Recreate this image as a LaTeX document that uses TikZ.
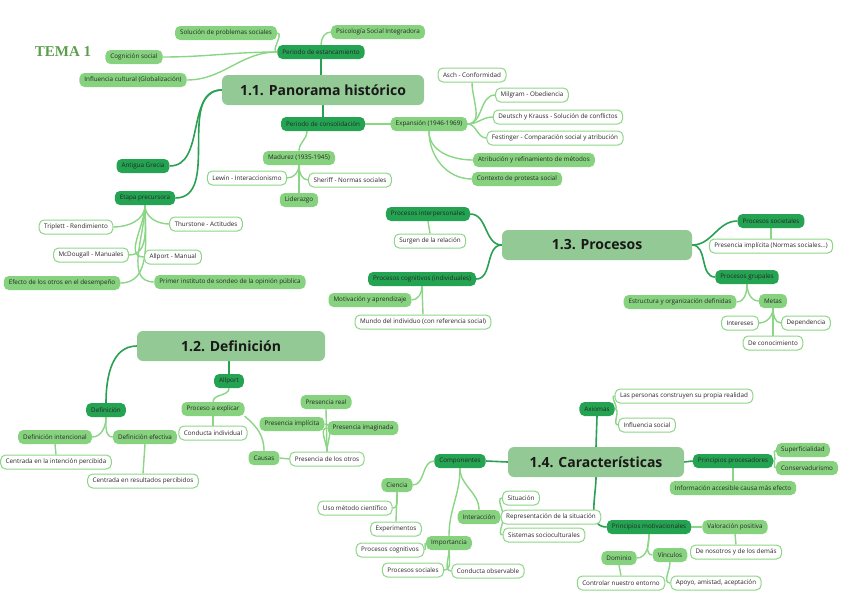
\documentclass[tikz,border=0pt]{standalone}
\usepackage{fontspec}
\setmainfont{Open Sans}
\newfontfamily\temafont{Liberation Serif}
\usetikzlibrary{backgrounds}
\definecolor{topicc}{HTML}{93C994}
\definecolor{darkc}{HTML}{24A452}
\definecolor{medc}{HTML}{86D27F}
\definecolor{bordc}{HTML}{8CD686}
\definecolor{lined}{HTML}{2AA052}
\definecolor{linel}{HTML}{8AD684}
\definecolor{temac}{HTML}{5C9E4C}
\tikzset{
  base/.style={rounded corners=5pt, minimum height=14pt, inner xsep=5pt, inner ysep=2pt, font=\fontsize{6.3}{7}\selectfont, text=black!85},
  dk/.style={base, fill=darkc},
  md/.style={base, fill=medc},
  wh/.style={base, fill=white, draw=bordc, line width=1pt},
  topic/.style={rounded corners=6pt, fill=topicc, minimum height=30pt, font=\fontsize{14}{16}\selectfont\bfseries, text=black!90},
  cd/.style={draw=lined, line width=1.6pt},
  cl/.style={draw=linel, line width=1.4pt},
}
\begin{document}
\begin{tikzpicture}[x=1pt,y=-1pt]
\useasboundingbox (0,0) rectangle (848,600);
\node[text=temac, font=\temafont\fontsize{15}{17}\selectfont\bfseries] (tema) at (63,52) {TEMA 1};
% ---------- 1.1
\node[topic, minimum width=202pt] (p11) at (323,90) {1.1. Panorama histórico};
\node[dk] (pest) at (321,52) {Periodo de estancamiento};
\node[md] (sol) at (226,33) {Solución de problemas sociales};
\node[md] (psi) at (378,32) {Psicología Social Integradora};
\node[md] (cog) at (134,57) {Cognición social};
\node[md] (inf) at (133,80) {Influencia cultural (Globalización)};
\node[dk] (pcon) at (323,124) {Periodo de consolidación};
\node[md] (exp) at (429,124) {Expansión (1946-1969)};
\node[md] (mad) at (299,158) {Madurez (1935-1945)};
\node[wh] (lew) at (247,178) {Lewin - Interaccionismo};
\node[wh] (she) at (350,180) {Sheriff - Normas sociales};
\node[md] (lid) at (299,200) {Liderazgo};
\node[wh] (asc) at (472,75) {Asch - Conformidad};
\node[wh] (mil) at (532,95) {Milgram - Obediencia};
\node[wh] (deu) at (558,117) {Deutsch y Krauss - Solución de conflictos};
\node[wh] (fes) at (555,138) {Festinger - Comparación social y atribución};
\node[md] (atr) at (534,160) {Atribución y refinamiento de métodos};
\node[md] (ctx) at (517,179) {Contexto de protesta social};
\node[dk] (gre) at (143,166) {Antigua Grecia};
\node[dk] (eta) at (145,198) {Etapa precursora};
\node[wh] (tri) at (76,227) {Triplett - Rendimiento};
\node[wh] (thu) at (206,224) {Thurstone - Actitudes};
\node[wh] (mcd) at (91,255) {McDougall - Manuales};
\node[wh] (alm) at (173,257) {Allport - Manual};
\node[md] (efe) at (62,283) {Efecto de los otros en el desempeño};
\node[md] (pri) at (230,282) {Primer instituto de sondeo de la opinión pública};
% ---------- 1.3
\node[topic, minimum width=190pt] (p13) at (597,245) {1.3. Procesos};
\node[dk] (pint) at (428,214) {Procesos interpersonales};
\node[wh] (sur) at (430,241) {Surgen de la relación};
\node[dk] (pcog) at (422,279) {Procesos cognitivos (individuales)};
\node[md] (mot) at (370,300) {Motivación y aprendizaje};
\node[wh] (mun) at (423,322) {Mundo del individuo (con referencia social)};
\node[dk] (psoc) at (771,221) {Procesos societales};
\node[wh] (pimp) at (771,246) {Presencia implícita (Normas sociales...)};
\node[dk] (pgru) at (747,277) {Procesos grupales};
\node[md] (est) at (680,302) {Estructura y organización definidas};
\node[md] (met) at (773,301) {Metas};
\node[wh] (int) at (740,323) {Intereses};
\node[wh] (dep) at (806,323) {Dependencia};
\node[wh] (con) at (773,343) {De conocimiento};
% ---------- 1.2
\node[topic, minimum width=188pt] (p12) at (231,346) {1.2. Definición};
\node[dk] (def) at (106,410) {Definición};
\node[dk] (all) at (229,381) {Allport};
\node[md] (pro) at (213,409) {Proceso a explicar};
\node[wh] (cin) at (213,433) {Conducta individual};
\node[md] (cau) at (264,458) {Causas};
\node[wh] (pdo) at (327,459) {Presencia de los otros};
\node[md] (pre) at (326,402) {Presencia real};
\node[md] (pim) at (292,424) {Presencia implícita};
\node[md] (pig) at (363,428) {Presencia imaginada};
\node[md] (din) at (55,437) {Definición intencional};
\node[md] (dfe) at (145,437) {Definición efectiva};
\node[wh] (cen) at (56,462) {Centrada en la intención percibida};
\node[wh] (cre) at (143,481) {Centrada en resultados percibidos};
% ---------- 1.4
\node[topic, minimum width=176pt] (p14) at (596,462) {1.4. Características};
\node[dk] (com) at (460,461) {Componentes};
\node[md] (cie) at (397,485) {Ciencia};
\node[wh] (uso) at (355,508) {Uso método científico};
\node[wh] (exq) at (396,529) {Experimentos};
\node[md] (inc) at (479,517) {Interacción};
\node[wh] (sit) at (521,498) {Situación};
\node[wh] (rep) at (551,517) {Representación de la situación};
\node[wh] (sis) at (544,535) {Sistemas socioculturales};
\node[md] (imp) at (449,543) {Importancia};
\node[wh] (pcg) at (390,550) {Procesos cognitivos};
\node[wh] (pso) at (413,570) {Procesos sociales};
\node[wh] (cob) at (488,571) {Conducta observable};
\node[dk] (axi) at (597,409) {Axiomas};
\node[wh] (las) at (684,396) {Las personas construyen su propia realidad};
\node[wh] (ins) at (647,425) {Influencia social};
\node[dk] (ppr) at (733,461) {Principios procesadores};
\node[md] (sup) at (803,450) {Superficialidad};
\node[md] (cns) at (807,468) {Conservadurismo};
\node[md] (ina) at (733,488) {Información accesible causa más efecto};
\node[dk] (pmo) at (649,527) {Principios motivacionales};
\node[md] (val) at (735,527) {Valoración positiva};
\node[wh] (dno) at (736,552) {De nosotros y de los demás};
\node[md] (dom) at (619,558) {Dominio};
\node[md] (vin) at (670,555) {Vínculos};
\node[wh] (ctr) at (621,583) {Controlar nuestro entorno};
\node[wh] (apo) at (716,583) {Apoyo, amistad, aceptación};
% ---------- connectors
\begin{scope}[on background layer]
% 1.1
\draw[cd] (pest.south) -- (pest.south |- p11.north);
\draw[cl] (pest.west) to[out=180,in=0] (sol.east);
\draw[cl] (pest.west) to[out=180,in=0] (cog.east);
\draw[cl] (pest.west) to[out=180,in=0] (inf.east);
\draw[cl] (pest.north) to[out=90,in=180] (psi.west);
\draw[cd] (p11.south) -- (pcon.north);
\draw[cd] (p11.west) to[out=180,in=0] (gre.east);
\draw[cd] (p11.west) to[out=180,in=0] (eta.east);
\draw[cl] (pcon.east) -- (exp.west);
\draw[cl] ([xshift=-16pt]pcon.south) to[out=-90,in=90] (mad.north);
\draw[cl] (mad.south) to[out=-90,in=0] (lew.east);
\draw[cl] (mad.south) to[out=-90,in=180] (she.west);
\draw[cl] (mad.south) -- (lid.north);
\draw[cl] (exp.east) to[out=0,in=-90] (asc.south);
\draw[cl] (exp.east) to[out=0,in=180] (mil.west);
\draw[cl] (exp.east) to[out=0,in=180] (deu.west);
\draw[cl] (exp.east) to[out=0,in=180] (fes.west);
\draw[cl] (exp.south) to[out=-90,in=180] (atr.west);
\draw[cl] (exp.south) to[out=-90,in=180] (ctx.west);
\draw[cl] (eta.south) to[out=-90,in=0] (tri.east);
\draw[cl] (eta.south) to[out=-90,in=180] (thu.west);
\draw[cl] (eta.south) to[out=-90,in=0] (mcd.east);
\draw[cl] (eta.south) to[out=-90,in=180] (alm.west);
\draw[cl] (eta.south) to[out=-90,in=0] (efe.east);
\draw[cl] (eta.south) to[out=-90,in=180] (pri.west);
% 1.3
\draw[cd] (p13.west) to[out=180,in=0] (pint.east);
\draw[cd] (p13.west) to[out=180,in=0] (pcog.east);
\draw[cl] (pint.south) -- (sur.north);
\draw[cl] (pcog.south) to[out=-90,in=0] (mot.east);
\draw[cl] (pcog.south) -- (mun.north);
\draw[cd] (p13.east) to[out=0,in=180] (psoc.west);
\draw[cd] (p13.east) to[out=0,in=180] (pgru.west);
\draw[cl] (psoc.south) -- (pimp.north);
\draw[cl] (pgru.south) to[out=-90,in=0] (est.east);
\draw[cl] (pgru.south) to[out=-90,in=180] (met.west);
\draw[cl] (met.south) to[out=-90,in=0] (int.east);
\draw[cl] (met.south) to[out=-90,in=180] (dep.west);
\draw[cl] (met.south) -- (con.north);
% 1.2
\draw[cd] (p12.west) to[out=180,in=90] (def.north);
\draw[cd] (all.north |- p12.south) -- (all.north);
\draw[cl] (all.south) to[out=-90,in=90] (pro.north);
\draw[cl] (pro.south) -- (cin.north);
\draw[cl] (pro.south east) to[out=-40,in=90] (cau.north);
\draw[cl] (cau.east) -- (pdo.west);
\draw[cl] (pdo.north) -- (pre.south);
\draw[cl] (pdo.north) to[out=90,in=0] (pim.east);
\draw[cl] (pdo.north) to[out=90,in=180] (pig.west);
\draw[cl] (def.south) to[out=-90,in=0] (din.east);
\draw[cl] (def.south) to[out=-90,in=180] (dfe.west);
\draw[cl] (din.south) -- (cen.north);
\draw[cl] (dfe.south) -- (cre.north);
% 1.4
\draw[cd] (p14.west) -- (com.east);
\draw[cd] (p14.north) -- (axi.south);
\draw[cd] (p14.east) -- (ppr.west);
\draw[cd] (p14.south) to[out=-90,in=180] (pmo.west);
\draw[cl] (com.west) to[out=180,in=0] (cie.east);
\draw[cl] (com.south) to[out=-90,in=90] (inc.north);
\draw[cl] (com.south) to[out=-90,in=90] (imp.north);
\draw[cl] (cie.south) to[out=-90,in=0] (uso.east);
\draw[cl] (cie.south) -- (exq.north);
\draw[cl] (inc.east) to[out=0,in=180] (sit.west);
\draw[cl] (inc.east) to[out=0,in=180] (rep.west);
\draw[cl] (inc.east) to[out=0,in=180] (sis.west);
\draw[cl] (imp.west) to[out=180,in=0] (pcg.east);
\draw[cl] (imp.south) to[out=-90,in=0] (pso.east);
\draw[cl] (imp.south) to[out=-90,in=180] (cob.west);
\draw[cl] (axi.east) to[out=0,in=180] (las.west);
\draw[cl] (axi.east) to[out=0,in=180] (ins.west);
\draw[cl] (ppr.east) to[out=0,in=180] (sup.west);
\draw[cl] (ppr.east) to[out=0,in=180] (cns.west);
\draw[cl] (ppr.south) -- (ina.north);
\draw[cl] (pmo.east) -- (val.west);
\draw[cl] (val.south) -- (dno.north);
\draw[cl] (pmo.south) to[out=-90,in=0] (dom.east);
\draw[cl] (pmo.south) to[out=-90,in=180] (vin.west);
\draw[cl] (dom.south) -- (ctr.north);
\draw[cl] (vin.south) to[out=-90,in=180] (apo.west);
\end{scope}
\end{tikzpicture}
\end{document}
